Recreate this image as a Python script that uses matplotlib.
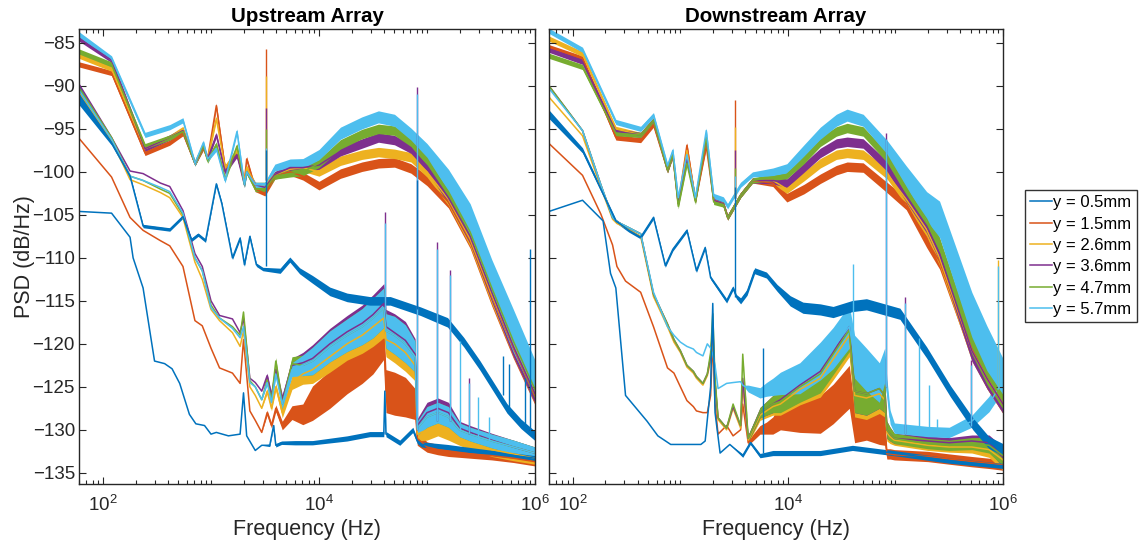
import numpy as np
import matplotlib.pyplot as plt
from matplotlib.ticker import LogLocator, NullFormatter, MultipleLocator

plt.rcParams['font.family'] = ['Liberation Sans', 'DejaVu Sans']
plt.rcParams['mathtext.fontset'] = 'custom'
plt.rcParams['mathtext.rm'] = 'Liberation Sans'

labels = ['y = 0.5mm', 'y = 1.5mm', 'y = 2.6mm', 'y = 3.6mm', 'y = 4.7mm', 'y = 5.7mm']
colors = ['#0072BD', '#D95319', '#EDB120', '#7E2F8E', '#77AC30', '#4DBEEE']

# ---------------- Upstream array ----------------
# upper family (y = 1.5 ... 5.7 mm)
up_hi_f = [60, 120, 245, 415, 550, 710, 850, 930, 1120, 1350, 1740, 2040, 2140, 2570, 3160,
           3900, 5400, 7100, 10000, 15800, 25000, 35500, 50000, 71000, 100000, 158000,
           251000, 398000, 631000, 1000000]
up_hi_orange = [-87.5, -88.5, -97.8, -96.6, -95.5, -99, -97.2, -98.5, -92.3, -99.5, -98, -101, -98.5, -102, -102.5,
                -100.5, -100, -100.5, -101.6, -100.2, -99.4, -99, -98.9, -99.6, -101, -103.5, -108, -114.5, -120.5, -126]
up_hi_yellow = [-86.5, -88, -97.3, -96, -95, -99, -97, -98.5, -93.8, -99.5, -97.5, -101, -99.5, -101.5, -101.5,
                -100.3, -99.7, -99.5, -100, -98.7, -98, -97.7, -97.9, -98.3, -100, -103.2, -107.8, -114.3, -120.3, -125.8]
up_hi_purple = [-84.5, -87, -97.3, -96, -95.2, -99, -97, -98.5, -95.7, -100, -98, -101.5, -100, -101.5, -101.8,
                -100.3, -99.5, -99.5, -99.2, -97.6, -96.7, -96, -96.3, -97.3, -99.3, -103, -107.5, -114, -120.3, -125.8]
up_hi_green = [-86, -87.5, -97, -96, -95.3, -99, -97, -98.7, -96.8, -100.8, -97, -101.5, -100, -102, -102,
               -100.5, -100.2, -100, -99, -96.8, -95.6, -95, -95.2, -96.5, -98.7, -102.3, -107, -113.5, -119.7, -125.3]
up_hi_cyan = [-84, -86.8, -95.7, -94.8, -94, -99, -96.6, -98.5, -97.3, -101, -95.3, -101.5, -100, -101.5, -101.5,
              -99.5, -99, -99, -98, -95.5, -94.3, -93.6, -94, -95.6, -97.5, -101, -105.5, -112.5, -118.5, -124]
up_hi_spread = [0.3, 0.3, 0.3, 0.3, 0.3, 0.3, 0.3, 0.3, 0.3, 0.3, 0.3, 0.3, 0.3, 0.3, 0.3,
                0.35, 0.4, 0.45, 0.5, 0.55, 0.55, 0.55, 0.55, 0.55, 0.6, 0.7, 0.9, 1.1, 1.2, 1.1]
up_hi_cyan_spread = [0.3, 0.3, 0.3, 0.3, 0.3, 0.3, 0.3, 0.3, 0.3, 0.3, 0.3, 0.3, 0.3, 0.3, 0.3,
                     0.4, 0.5, 0.55, 0.6, 0.7, 0.7, 0.7, 0.7, 0.7, 0.8, 1.3, 1.8, 2.3, 2.5, 2.1]

# lower family (y = 1.5 ... 5.7 mm)
up_lo_f = [60, 120, 178, 235, 340, 415, 550, 710, 830, 1000, 1200, 1580, 1860, 2000, 2290, 2570, 2950,
           3310, 3630, 3980, 4570, 5620, 7080, 8710, 12600, 18200, 25100, 31600, 39800, 41700, 50100,
           63100, 77600, 81300, 100000, 126000, 158000, 200000, 251000, 398000, 631000, 1000000]
up_lo_orange = [-96.1, -100.6, -105.3, -106.8, -108, -108.6, -111, -117.3, -117.9, -120.5, -122.8, -123.4, -124.6,
                -119.5, -127.8, -128.9, -130.3, -128, -129.5, -127.5, -129.5, -128, -128.2, -126.9, -125.3, -123.7,
                -122.3, -121, -119.5, -125.5, -125.8, -126.2, -127, -131, -132, -132.3, -132.5, -132.7, -132.8,
                -133, -133.3, -133.7]
up_lo_yellow = [-90.8, -96.3, -100.9, -101.5, -102.4, -103, -105.3, -110.5, -112.5, -116, -117.3, -118.7, -120.3,
                -118.5, -125, -126, -127.5, -125.5, -127.5, -125, -128, -124.5, -123.5, -123, -121.5, -120, -119,
                -118, -117, -119.5, -120, -121, -122.5, -130.5, -130, -129.5, -130, -131, -131.5, -132.3, -132.8,
                -133.3]
up_lo_purple = [-89.8, -96, -99.9, -100.2, -101.3, -101.7, -104.5, -109.5, -111, -115, -116.7, -117.1, -118.7,
                -117, -124, -124.5, -125.5, -123.7, -126, -123, -126.5, -122.5, -122.2, -121.7, -120, -118.6,
                -117.6, -116.6, -115.3, -118, -118.7, -119.6, -121.2, -129.5, -128, -127.5, -128, -129.8, -130.3,
                -131.2, -132, -132.7]
up_lo_green = [-90.2, -96, -100.5, -101, -102, -102.5, -105, -110, -111.5, -115.5, -117, -118, -119, -116.3,
               -124.3, -125, -126.5, -124.2, -126.5, -122, -127, -122.3, -122.5, -122, -120.3, -119, -118, -117,
               -115.8, -118.5, -119, -120, -121.5, -129.8, -128.5, -128, -128.5, -130, -130.5, -131.3, -132,
               -132.7]
up_lo_cyan = [-90.5, -96.2, -100.5, -101, -101.8, -102.3, -104.8, -110, -111.5, -115.8, -117, -118.2, -119.3,
              -118, -124.5, -125, -126.5, -124.5, -126.8, -123.5, -127, -123, -122.5, -122, -120.3, -119, -118,
              -117, -115.8, -118.5, -119, -120, -121.5, -129.8, -128.5, -128, -128.5, -130, -130.5, -131.3,
              -132, -132.7]
up_lo_spread = [0, 0, 0, 0, 0, 0, 0, 0, 0, 0, 0, 0, 0, 0, 0, 0, 0,
                0.3, 0.3, 0.4, 0.6, 0.8, 1.2, 1.6, 1.8, 1.9, 2.1, 2.3, 2.3, 2.0, 2.2, 2.2, 1.8, 0.8, 1.2,
                1.2, 1.2, 0.8, 0.8, 0.8, 0.8, 0.7]
up_lo_orange_spread = [0, 0, 0, 0, 0, 0, 0, 0, 0, 0, 0, 0, 0, 0, 0, 0, 0,
                       0.3, 0.3, 0.4, 0.5, 0.8, 1.2, 2.0, 2.2, 2.1, 2.3, 2.5, 2.3, 2.5, 2.5, 2.3, 1.8, 0.8,
                       0.6, 0.6, 0.6, 0.5, 0.5, 0.5, 0.5, 0.5]

# y = 0.5 mm, upper trace (broadband hump)
up_b_f = [60, 120, 178, 235, 415, 550, 660, 760, 890, 1120, 1260, 1580, 1860, 2040, 2290, 2630, 3020,
          4370, 5370, 6610, 8700, 12600, 18200, 29500, 45700, 87000, 155000, 219000, 309000, 437000,
          550000, 741000, 1000000]
up_b = [-91, -96.6, -100.5, -106.3, -106.7, -105.2, -107.9, -107.3, -108, -101.4, -103.7, -110, -107.7, -110.8,
        -107.5, -110.8, -111.3, -111.5, -110.2, -111.5, -112.5, -113.9, -114.6, -115, -115, -116.2, -117.5,
        -119.8, -122.5, -125.5, -127.5, -129.3, -130.7]
up_b_spread = [1.2, 0.3, 0.2, 0.2, 0.2, 0.2, 0.2, 0.2, 0.2, 0.2, 0.2, 0.2, 0.2, 0.2, 0.2, 0.2, 0.2,
               0.3, 0.3, 0.35, 0.45, 0.5, 0.5, 0.5, 0.5, 0.5, 0.55, 0.55, 0.55, 0.55, 0.55, 0.55, 0.55]

# y = 0.5 mm, lowest trace
up_c_f = [60, 120, 178, 190, 235, 300, 372, 436, 513, 631, 724, 871, 1000, 1120, 1450, 1860, 2000, 2140,
          2570, 2950, 3500, 3800, 3980, 4500, 6000, 8700, 18200, 29500, 39800, 40700, 41700, 56000, 74000,
          81300, 89000, 155000, 309000, 1000000]
up_c = [-104.6, -104.8, -107.6, -110, -113.5, -122, -122.3, -122.9, -124.6, -128.2, -129.3, -129.5, -130.5,
        -130.3, -130.7, -130.5, -125.7, -130.7, -132.4, -131.8, -131.8, -129.5, -131.8, -131.5, -131.5, -131.5,
        -131, -130.5, -130.5, -125.5, -130.5, -131.5, -130, -131.3, -131.7, -132, -132.5, -133.3]
up_c_spread = [0, 0, 0, 0, 0, 0, 0, 0, 0, 0, 0, 0, 0, 0, 0, 0, 0, 0, 0, 0,
               0.15, 0.15, 0.2, 0.2, 0.25, 0.25, 0.3, 0.3, 0.3, 0.3, 0.3, 0.3, 0.3, 0.3, 0.3, 0.3, 0.3, 0.3]

# narrow tones
up_spike_f = [3240, 3240, 3240, 3240, 3240, 3240, 40700, 40700, 81300, 81300, 123000, 123000, 162000, 162000,
              204000, 245000, 245000, 295000, 372000, 501000, 575000, 813000, 891000, 81300]
up_spike_lo = [-101, -101, -101, -101, -101, -111, -116, -116, -130, -130, -129, -129, -129, -129,
               -130, -130.5, -130.5, -131, -131.3, -126, -127.5, -130, -130.5, -116]
up_spike_hi = [-85.7, -88.8, -92.6, -95, -97.2, -97.5, -104.7, -106, -90.1, -91, -108.2, -109, -111.4, -112,
               -119.7, -124, -124.5, -126.2, -128.5, -121.4, -122.3, -124, -109, -101]
up_spike_series = [1, 2, 3, 4, 5, 0, 3, 5, 3, 5, 3, 5, 3, 5, 5, 3, 5, 5, 5, 0, 0, 0, 0, 0]

# ---------------- Downstream array ----------------
dn_hi_f = [60, 123, 251, 427, 562, 759, 851, 955, 1150, 1380, 1740, 2040, 2510, 2750, 3630, 4680, 7240,
           9770, 14100, 20000, 28200, 35500, 50100, 83200, 126000, 195000, 257000, 513000, 708000, 1000000]
dn_hi_orange = [-85.5, -86.8, -96, -96.3, -94.5, -99.8, -98, -103.7, -96.9, -103.3, -97, -103.3, -103.7, -105.3,
                -102.7, -101, -101.3, -103, -102, -100.8, -99.8, -99.4, -99.5, -101.8, -103.7, -108, -110.4,
                -120.6, -124, -127]
dn_hi_yellow = [-84.5, -86.3, -95, -95.7, -94, -99.8, -98, -103.7, -97.5, -103.3, -96, -103.3, -103.7, -105.3,
                -102.7, -101, -101, -102, -100.5, -99, -98, -97.8, -98, -100.2, -103.2, -106.7, -110, -120.8,
                -124, -127]
dn_hi_purple = [-85.8, -87.2, -95.3, -95.7, -94, -99.8, -98, -103.7, -98.5, -103.3, -96, -103.3, -103.7, -105.3,
                -102.7, -101, -101, -101.3, -99.5, -97.8, -96.7, -96.5, -96.7, -99.3, -102.8, -106.3, -109.5,
                -120.8, -124, -127]
dn_hi_green = [-86.5, -87.8, -95.5, -95.7, -94, -99.8, -98, -104, -99, -103.5, -96, -103.5, -103.8, -105.3,
               -102.7, -101, -100.6, -100.3, -98.5, -96.5, -95.3, -94.9, -95.3, -98.3, -102, -105.5, -108.5,
               -120, -123.5, -126.5]
dn_hi_cyan = [-83.6, -85.8, -94.2, -95, -93.4, -99.3, -97.5, -103, -98, -103, -95.2, -102.8, -103.2, -104,
              -101.5, -100.3, -100, -99.6, -97.5, -95.5, -94, -93.4, -94, -97.1, -100.5, -104, -105.5, -116.6,
              -120.5, -123.8]
dn_hi_spread = [0.3, 0.3, 0.3, 0.3, 0.3, 0.3, 0.3, 0.3, 0.3, 0.3, 0.3, 0.3, 0.3, 0.3, 0.3, 0.3,
                0.4, 0.5, 0.55, 0.55, 0.55, 0.55, 0.55, 0.6, 0.7, 0.8, 0.9, 1.2, 1.2, 1.1]
dn_hi_cyan_spread = [0.3, 0.3, 0.3, 0.3, 0.3, 0.3, 0.3, 0.3, 0.3, 0.3, 0.3, 0.3, 0.3, 0.3, 0.3, 0.3,
                     0.45, 0.55, 0.65, 0.7, 0.7, 0.7, 0.7, 0.8, 1.2, 1.7, 2.1, 2.6, 2.6, 2.1]

dn_lo_f = [60, 123, 182, 234, 257, 309, 427, 562, 759, 871, 1000, 1150, 1320, 1410, 1620, 1780, 1910, 2000,
           2100, 2240, 2690, 3090, 3630, 3800, 4270, 5500, 6310, 7240, 8510, 12900, 20000, 26300, 37200,
           41700, 53700, 70800, 79400, 83200, 89100, 97700, 200000, 316000, 513000, 741000, 1000000]
dn_lo_orange = [-96.7, -100.4, -104.9, -108.5, -111, -112.7, -114, -118, -122.8, -123.4, -125, -126.6, -127.3,
                -127.8, -128, -128, -126, -119.6, -127, -130.5, -129.5, -130.7, -130, -127, -131.5, -130, -129.8,
                -129.5, -128.5, -128.3, -128.2, -127, -125, -129.5, -129.2, -129.7, -130, -132.8, -132.8, -132.9,
                -133.1, -133.4, -133.7, -133.9, -134.1]
dn_lo_yellow = [-91.3, -95.8, -101.8, -105.5, -106, -106.5, -107.5, -114.5, -118, -119.8, -121, -122.7, -123.4,
                -124, -124.8, -123.7, -122, -119, -124.5, -128.8, -130, -127.5, -129.8, -125, -131.2, -128.3,
                -127.8, -127.3, -127, -125.3, -124, -121.8, -119, -126, -126.3, -125.8, -126.5, -130.3, -130.8,
                -131.2, -131.8, -132, -132, -132.3, -133.5]
dn_lo_purple = [-90, -95.2, -101.5, -105.3, -105.8, -106.3, -107.2, -114.2, -117.7, -119.5, -120.8, -122.5,
                -123.2, -123.8, -124.6, -123.5, -121.5, -118, -124.5, -128.6, -129.8, -127.3, -129.5, -124, -131,
                -128, -127.5, -127, -126.5, -124.8, -123.2, -121, -118, -125.5, -125.8, -125.2, -126, -130,
                -130.5, -131, -131.3, -131.5, -131.3, -131.5, -133.2]
dn_lo_green = [-90, -95.2, -101.5, -105.3, -105.8, -106.3, -107.2, -114.2, -117.7, -119.5, -120.8, -122.5,
               -123.2, -123.8, -124.6, -123.5, -121, -116.5, -124, -128.6, -129.8, -127, -129.5, -121.2, -131,
               -128, -127.5, -127, -126.7, -125, -123.5, -121.2, -118.4, -125.5, -125.8, -125.2, -126, -130,
               -130.5, -131, -131.6, -131.8, -131.6, -131.8, -133]
dn_lo_cyan = [-90.3, -95.2, -101.5, -105.3, -105.8, -106.3, -107.2, -114, -118, -119, -119.8, -120.3, -120.6,
              -121, -121.4, -120, -120.5, -121.2, -122.5, -125.2, -124.6, -124.5, -124.4, -124.8, -125.2, -125.7,
              -125.3, -125, -124.6, -124, -122, -120.5, -118, -121.5, -123, -124.5, -122.5, -125, -128.5,
              -129.8, -130.2, -130.3, -129, -127, -124.3]
dn_lo_spread = [0, 0, 0, 0, 0, 0, 0, 0, 0, 0, 0, 0, 0, 0, 0, 0, 0, 0, 0, 0, 0, 0, 0, 0,
                0.4, 0.6, 0.8, 1.0, 1.3, 1.8, 2.2, 2.4, 2.5, 2.5, 2.5, 2.3, 2.0, 1.0, 0.8, 0.6, 0.6, 0.6,
                0.7, 0.9, 1.2]
dn_lo_orange_spread = [0, 0, 0, 0, 0, 0, 0, 0, 0, 0, 0, 0, 0, 0, 0, 0, 0, 0, 0, 0, 0, 0, 0, 0,
                       0.3, 0.5, 0.7, 1.0, 1.5, 2.0, 2.2, 2.3, 2.5, 2.0, 2.0, 2.0, 1.8, 0.6, 0.6, 0.6, 0.6,
                       0.6, 0.6, 0.6, 0.6]

dn_b_f = [60, 123, 251, 331, 427, 562, 724, 851, 1150, 1410, 1700, 1910, 2690, 3090, 3310, 3630, 4170, 4900,
          6310, 7940, 10500, 13800, 20000, 26300, 39800, 53700, 110000, 195000, 324000, 525000, 741000, 1000000]
dn_b = [-93.3, -97.5, -105.7, -106.8, -107.6, -105.3, -110.9, -109, -106.8, -111.5, -108.8, -112.3, -115, -113.5,
        -114.5, -115, -114, -111.5, -112, -113.5, -115, -115.8, -116, -116.3, -115.6, -115.4, -116.5, -121,
        -125.5, -129.3, -131.5, -132.3]
dn_b_spread = [0.5, 0.3, 0.2, 0.2, 0.2, 0.2, 0.2, 0.2, 0.2, 0.2, 0.2, 0.2, 0.25, 0.25, 0.25,
               0.35, 0.35, 0.35, 0.35, 0.4, 0.6, 0.65, 0.65, 0.65, 0.65, 0.65, 0.65, 0.65, 0.65, 0.7, 0.7, 0.7]

dn_c_f = [60, 123, 191, 224, 251, 309, 490, 617, 813, 1550, 1700, 1910, 2000, 2100, 2340, 2880, 3800, 4470,
          5500, 7240, 20000, 39800, 110000, 324000, 1000000]
dn_c = [-104.6, -103.3, -105.7, -111.8, -113.5, -126, -129, -130.7, -131.7, -131.7, -131.3, -125, -115.3, -128,
        -132.7, -131.7, -133, -131.5, -133, -132.7, -132.7, -132.1, -132.8, -133.6, -134.2]
dn_c_spread = [0, 0, 0, 0, 0, 0, 0, 0, 0, 0, 0, 0, 0, 0, 0, 0,
               0.2, 0.2, 0.25, 0.3, 0.3, 0.3, 0.3, 0.3, 0.3]

dn_spike_f = [3240, 3240, 3240, 3240, 3240, 3240, 5890, 40700, 81300, 81300, 123000, 123000, 164000, 204000,
              245000, 501000, 501000, 891000, 891000]
dn_spike_lo = [-103, -103, -103, -103, -103, -114.5, -132.7, -121, -125, -125, -130.5, -130.5, -130.5, -130.5,
               -130.5, -129.5, -129.5, -125, -125]
dn_spike_hi = [-91.6, -94.8, -97.5, -99.5, -100.5, -101.8, -120.5, -110.7, -95.5, -96.2, -114.5, -115.2, -119.3,
               -124.8, -128.7, -121.9, -122.5, -110.2, -111]
dn_spike_series = [1, 2, 3, 4, 5, 0, 0, 5, 3, 5, 3, 5, 5, 5, 5, 3, 5, 2, 5]


def band(ax, f, v, s, c):
    f = np.asarray(f, float)
    v = np.asarray(v, float)
    s = np.asarray(s, float)
    ax.fill_between(f, v - s, v + s, color=c, lw=0)
    return ax.plot(f, v, color=c, lw=1.1)[0]


def panel(ax, p):
    handles = [None] * 6
    lo = [p['lo_orange'], p['lo_yellow'], p['lo_purple'], p['lo_green'], p['lo_cyan']]
    for k, v in enumerate(lo):
        sp = p['lo_orange_spread'] if k == 0 else p['lo_spread']
        handles[k + 1] = band(ax, p['lo_f'], v, sp, colors[k + 1])
    handles[0] = band(ax, p['c_f'], p['c'], p['c_spread'], colors[0])
    band(ax, p['b_f'], p['b'], p['b_spread'], colors[0])
    hi = [p['hi_orange'], p['hi_yellow'], p['hi_purple'], p['hi_green'], p['hi_cyan']]
    for k, v in enumerate(hi):
        sp = p['hi_cyan_spread'] if k == 4 else p['hi_spread']
        band(ax, p['hi_f'], v, sp, colors[k + 1])
    ax.vlines(p['spike_f'], p['spike_lo'], p['spike_hi'],
              colors=[colors[i] for i in p['spike_series']], lw=1.0)

    ax.set_xscale('log')
    ax.set_xlim(60, 1e6)
    ax.set_ylim(-136.3, -83.4)
    ax.xaxis.set_major_locator(LogLocator(base=100))
    ax.xaxis.set_minor_locator(LogLocator(base=10, subs=np.arange(1, 10), numticks=20))
    ax.xaxis.set_minor_formatter(NullFormatter())
    ax.yaxis.set_major_locator(MultipleLocator(5))
    ax.tick_params(which='both', direction='in', top=True, right=True, colors='#262626',
                   labelsize=13.5, width=0.8)
    ax.tick_params(which='major', length=5)
    ax.tick_params(which='minor', length=2.8)
    ax.tick_params(axis='x', which='major', pad=8)
    ax.tick_params(axis='y', which='major', pad=3)
    for s in ax.spines.values():
        s.set_linewidth(1.0)
        s.set_color('#262626')
    ax.set_xlabel('Frequency (Hz)', fontsize=15.5, color='#262626', labelpad=3)
    return handles


up = dict(hi_f=up_hi_f, hi_orange=up_hi_orange, hi_yellow=up_hi_yellow, hi_purple=up_hi_purple,
          hi_green=up_hi_green, hi_cyan=up_hi_cyan, hi_spread=up_hi_spread, hi_cyan_spread=up_hi_cyan_spread,
          lo_f=up_lo_f, lo_orange=up_lo_orange, lo_yellow=up_lo_yellow, lo_purple=up_lo_purple,
          lo_green=up_lo_green, lo_cyan=up_lo_cyan, lo_spread=up_lo_spread,
          lo_orange_spread=up_lo_orange_spread, b_f=up_b_f, b=up_b, b_spread=up_b_spread,
          c_f=up_c_f, c=up_c, c_spread=up_c_spread, spike_f=up_spike_f, spike_lo=up_spike_lo,
          spike_hi=up_spike_hi, spike_series=up_spike_series)
dn = dict(hi_f=dn_hi_f, hi_orange=dn_hi_orange, hi_yellow=dn_hi_yellow, hi_purple=dn_hi_purple,
          hi_green=dn_hi_green, hi_cyan=dn_hi_cyan, hi_spread=dn_hi_spread, hi_cyan_spread=dn_hi_cyan_spread,
          lo_f=dn_lo_f, lo_orange=dn_lo_orange, lo_yellow=dn_lo_yellow, lo_purple=dn_lo_purple,
          lo_green=dn_lo_green, lo_cyan=dn_lo_cyan, lo_spread=dn_lo_spread,
          lo_orange_spread=dn_lo_orange_spread, b_f=dn_b_f, b=dn_b, b_spread=dn_b_spread,
          c_f=dn_c_f, c=dn_c, c_spread=dn_c_spread, spike_f=dn_spike_f, spike_lo=dn_spike_lo,
          spike_hi=dn_spike_hi, spike_series=dn_spike_series)

fig = plt.figure(figsize=(11.39, 5.5), dpi=100)
ax1 = fig.add_axes([0.0694, 0.12, 0.4003, 0.827])
ax2 = fig.add_axes([0.482, 0.12, 0.3986, 0.827])

h = panel(ax1, up)
panel(ax2, dn)
ax2.tick_params(labelleft=False)

ax1.set_ylabel('PSD (dB/Hz)', fontsize=15.5, color='#262626', labelpad=-2)
ax1.set_title('Upstream Array', fontsize=14.8, fontweight='bold', pad=5)
ax2.set_title('Downstream Array', fontsize=14.8, fontweight='bold', pad=5)

leg = fig.legend(h, labels, loc='upper left', bbox_to_anchor=(0.9, 0.654), frameon=True,
                 fancybox=False, edgecolor='black', fontsize=12, handlelength=1.3,
                 handletextpad=0.1, labelspacing=0.38, borderpad=0.3, borderaxespad=0)
leg.get_frame().set_linewidth(1.0)

fig.savefig('out.png', dpi=100)
